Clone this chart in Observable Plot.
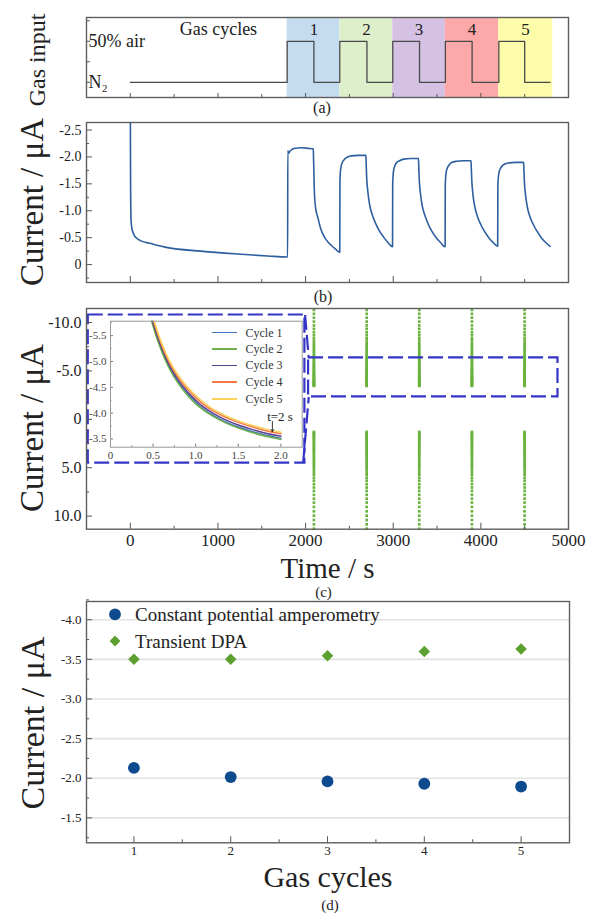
<!DOCTYPE html>
<html><head><meta charset="utf-8">
<script src="https://cdn.jsdelivr.net/npm/d3@7"></script>
<script src="https://cdn.jsdelivr.net/npm/@observablehq/plot@0.6"></script>
<style>
body{margin:0;background:#fff;}
#fig{position:relative;width:602px;height:918px;font-family:"Liberation Serif","Times New Roman",serif;color:#222;overflow:hidden;background:#fff}
#fig svg{position:absolute;overflow:visible}
#fig svg, #fig svg text{font-family:"Liberation Serif","Times New Roman",serif !important;}
.lbl{position:absolute;white-space:nowrap;line-height:1;}
</style></head><body><div id="fig"></div>
<script>
// ---------------- data ----------------
// shared time axis (s)
const timeMajor = [0, 1000, 2000, 3000, 4000];
const timeMinor = [500, 1500, 2500, 3500, 4500];
const timeLabels = [0, 1000, 2000, 3000, 4000, 5000];

// (a) gas input programme
const gasTime  = [0, 1790, 2095, 2390, 2700, 2995, 3300, 3595, 3900, 4205, 4500, 4790];
const gasLevel = [0, 1, 0, 1, 0, 1, 0, 1, 0, 1, 0, 0];
const gasLevelNames = ["N₂", "50% air"];
const gasLevelValues = [0, 1];
const cycleLabels = ["1", "2", "3", "4", "5"];
const cycleStart = [1790, 2390, 2995, 3595, 4205];
const cycleEnd   = [2390, 2995, 3595, 4205, 4820];
const cycleMid   = [2095, 2695, 3295, 3900, 4510];
const cycleColors = ["#c5dbf0", "#deefcc", "#d4c1e4", "#fea9a9", "#fdfcaa"];
const gasNote = "Gas cycles";

// (b) constant potential amperometry trace (time s, current µA)
const initTime = [0, 3, 8, 15, 30, 46, 80, 122, 236, 426, 806, 1186, 1566, 1792];
const initCur  = [-3.0, -1.5, -0.85, -0.7, -0.6, -0.54, -0.48, -0.44, -0.39, -0.315, -0.25, -0.2, -0.16, -0.14];
const c1Time = [1795, 1797, 1805, 1830, 1880, 1950, 2030, 2088, 2091, 2095, 2101, 2115, 2139, 2170, 2215, 2250, 2291, 2340, 2388];
const c1Cur  = [-0.14, -2.12, -2.07, -2.12, -2.16, -2.17, -2.16, -2.15, -1.95, -1.7, -1.32, -1.05, -0.88, -0.68, -0.51, -0.43, -0.36, -0.29, -0.23];
const c2Time = [2390, 2392, 2397, 2405, 2420, 2440, 2470, 2520, 2600, 2688, 2691, 2697, 2710, 2730, 2760, 2800, 2840, 2890, 2940, 2990];
const c2Cur  = [-0.23, -1.55, -1.72, -1.82, -1.9, -1.95, -1.99, -2.02, -2.03, -2.03, -1.88, -1.62, -1.36, -1.12, -0.93, -0.76, -0.63, -0.51, -0.41, -0.33];
const c3Time = [2992, 2994, 2999, 3007, 3022, 3042, 3072, 3122, 3200, 3288, 3291, 3297, 3310, 3330, 3360, 3400, 3440, 3490, 3540, 3590];
const c3Cur  = [-0.33, -1.5, -1.67, -1.77, -1.85, -1.9, -1.93, -1.96, -1.97, -1.97, -1.83, -1.58, -1.33, -1.1, -0.92, -0.75, -0.62, -0.5, -0.41, -0.33];
const c4Time = [3592, 3594, 3599, 3607, 3622, 3642, 3672, 3722, 3800, 3888, 3891, 3897, 3910, 3930, 3960, 4000, 4040, 4090, 4140, 4190];
const c4Cur  = [-0.33, -1.47, -1.64, -1.74, -1.81, -1.86, -1.9, -1.92, -1.93, -1.93, -1.79, -1.55, -1.3, -1.08, -0.9, -0.74, -0.62, -0.5, -0.41, -0.34];
const c5Time = [4192, 4194, 4199, 4207, 4222, 4242, 4272, 4322, 4400, 4488, 4491, 4497, 4510, 4530, 4560, 4600, 4640, 4690, 4740, 4790];
const c5Cur  = [-0.34, -1.45, -1.61, -1.71, -1.78, -1.83, -1.87, -1.89, -1.9, -1.9, -1.77, -1.53, -1.29, -1.07, -0.89, -0.74, -0.62, -0.5, -0.41, -0.34];

// (c) transient DPA samples: pulse times and sampled currents (µA)
const pulseTime = [2095, 2697, 3297, 3898, 4499];
const pulseNeg = [-11.3, -10.9, -10.5, -10.1, -9.7, -9.35, -9.0, -8.7, -8.4, -8.15, -7.9, -7.65, -7.45, -7.25, -7.05, -6.85, -6.65, -6.5, -6.35, -6.2, -6.05, -5.9, -5.75, -5.6, -5.48, -5.36, -5.24, -5.12, -5.0, -4.9, -4.8, -4.7, -4.6, -4.5, -4.42, -4.34, -4.26, -4.18, -4.1, -4.02, -3.95, -3.88, -3.81, -3.74, -3.68, -3.62, -3.56, -3.5, -3.45];
const pulsePos = [11.3, 10.85, 10.4, 9.95, 9.5, 9.05, 8.6, 8.2, 7.8, 7.4, 7.05, 6.7, 6.35, 6.05, 5.75, 5.5, 5.25, 5.0, 4.8, 4.6, 4.4, 4.2, 4.0, 3.8, 3.6, 3.42, 3.25, 3.08, 2.92, 2.76, 2.6, 2.45, 2.3, 2.16, 2.02, 1.88, 1.75, 1.62, 1.5, 1.4, 1.3];
const zoomBoxT = [-480, 1992];  const zoomBoxI = [-10.78, 4.53];
const detailBoxT = [2034, 4880]; const detailBoxI = [-6.35, -2.31];
const connT1 = [1994, 1972];  const connI1 = [-10.78, 4.53];
const connT2 = [2036, 2036];  const connI2 = [-6.35, -2.31];

// (c) inset: transient current during first 2 s of each cycle
const insetTime = [0.47, 0.5, 0.55, 0.6, 0.65, 0.7, 0.8, 0.9, 1.0, 1.1, 1.2, 1.35, 1.5, 1.65, 1.8, 2.0];
const inCycle1 = [-5.88, -5.71, -5.45, -5.23, -5.03, -4.86, -4.59, -4.38, -4.21, -4.07, -3.96, -3.83, -3.73, -3.65, -3.58, -3.51];
const inCycle2 = [-5.85, -5.68, -5.42, -5.2, -5.0, -4.83, -4.56, -4.35, -4.18, -4.05, -3.94, -3.81, -3.71, -3.63, -3.56, -3.49];
const inCycle3 = [-5.92, -5.75, -5.49, -5.27, -5.07, -4.9, -4.63, -4.42, -4.25, -4.11, -4.0, -3.87, -3.77, -3.69, -3.62, -3.55];
const inCycle4 = [-5.98, -5.81, -5.55, -5.32, -5.12, -4.95, -4.68, -4.47, -4.3, -4.16, -4.05, -3.92, -3.82, -3.74, -3.67, -3.6];
const inCycle5 = [-6.02, -5.85, -5.59, -5.36, -5.16, -4.99, -4.72, -4.51, -4.34, -4.2, -4.08, -3.95, -3.85, -3.77, -3.7, -3.63];
const inNames = ["Cycle 1", "Cycle 2", "Cycle 3", "Cycle 4", "Cycle 5"];
const inColors = ["#3f74b8", "#6db34a", "#5a3f8f", "#f37a45", "#fbd35a"];

// (d) summary per gas cycle
const gasCycles = [1, 2, 3, 4, 5];
const cpaCurrent = [-2.13, -2.015, -1.96, -1.93, -1.895];
const dpaCurrent = [-3.5, -3.5, -3.545, -3.6, -3.63];
const seriesNames = ["Constant potential amperometry", "Transient DPA"];
const seriesColors = ["#0d4a8e", "#5ca032"];

// ---------------- helpers ----------------
const SERIF = '"Liberation Serif","Times New Roman",serif';
const fig = document.getElementById("fig");
const FRAME = {stroke: "#5e5e5e", strokeWidth: 1.4};
const TICK = "#555";
function put(svg, left, top) { svg.style.left = left + "px"; svg.style.top = top + "px"; svg.style.background = "transparent"; fig.appendChild(svg); }
function label(txt, x, y, size, rot, extra) {
  const d = document.createElement("div");
  d.className = "lbl"; d.innerHTML = txt;
  d.style.left = x + "px"; d.style.top = y + "px"; d.style.fontSize = size + "px";
  d.style.transform = "translate(-50%,-50%)" + (rot ? " rotate(-90deg)" : "");
  if (extra) Object.assign(d.style, extra);
  fig.appendChild(d);
}
const fmt1 = d => d === 0 ? "0" : d.toFixed(1);
const ticksX = (vals, len, innerH) => Plot.tickX(vals, {insetTop: innerH - len, stroke: TICK, strokeWidth: 1});
const ticksY = (vals, len, innerW) => Plot.tickY(vals, {insetRight: innerW - len, stroke: TICK, strokeWidth: 1});
const baseStyle = {fontFamily: SERIF, color: "#222", background: "transparent", overflow: "visible"};
const W = 602, ML = 86, MR = 34, innerW = W - ML - MR;
const timeDomain = [-500, 5000];

// ---------------- (a) ----------------
{
  const H = 100, MT = 17, MB = 3, innerH = H - MT - MB;
  const cycles = cycleLabels.map((c, i) => ({c, x1: cycleStart[i], x2: cycleEnd[i], mid: cycleMid[i], fill: cycleColors[i]}));
  const gas = gasTime.map((t, i) => ({t, v: gasLevel[i]}));
  const lv = gasLevelValues.map((v, i) => ({v, s: gasLevelNames[i]}));
  put(Plot.plot({
    width: W, height: H, marginLeft: ML, marginRight: MR, marginTop: MT, marginBottom: MB,
    x: {domain: timeDomain, axis: null}, y: {domain: [-0.37, 1.58], axis: null},
    color: {type: "identity"}, style: baseStyle,
    marks: [
      Plot.rect(cycles, {x1: "x1", x2: "x2", fill: "fill"}),
      Plot.line(gas, {x: "t", y: "v", curve: "step-after", stroke: "#4a4a4a", strokeWidth: 1.3}),
      Plot.text(cycles, {x: "mid", y: () => 1.28, text: "c", fontSize: 17}),
      Plot.text([gasNote], {x: () => 1005, y: () => 1.3, text: d => d, fontSize: 18}),
      Plot.text(lv, {y: "v", text: "s", frameAnchor: "left", dx: 2, textAnchor: "start", fontSize: 18}),
      ticksX(timeMajor, 4, innerH), ticksX(timeMinor, 3, innerH),
      ticksY([0, 0.5, 1, 1.5], 4, innerW),
      Plot.frame(FRAME)
    ]
  }), 0, 0);
  label("Gas input", 37, 59.5, 24, true);
  label("(a)", 322, 108, 16);
}

// ---------------- (b) ----------------
{
  const H = 176, MT = 12, MB = 4, innerH = H - MT - MB;
  const tt = [].concat(initTime, c1Time, c2Time, c3Time, c4Time, c5Time);
  const ii = [].concat(initCur, c1Cur, c2Cur, c3Cur, c4Cur, c5Cur);
  const trace = tt.map((t, k) => ({t, i: ii[k]}));
  put(Plot.plot({
    width: W, height: H, marginLeft: ML, marginRight: MR, marginTop: MT, marginBottom: MB,
    x: {domain: timeDomain, axis: null, label: null}, y: {domain: [0.333, -2.64], label: null},
    style: baseStyle,
    marks: [
      Plot.line(trace, {x: "t", y: "i", stroke: "#2d5f9f", strokeWidth: 1.6, curve: "monotone-x", clip: true}),
      Plot.axisY({ticks: [-2.5, -2, -1.5, -1, -0.5, 0], tickSize: 0, tickPadding: 5, fontSize: 14, tickFormat: fmt1, label: null}),
      ticksY([-2.5, -2, -1.5, -1, -0.5, 0], 6, innerW), ticksY([-2.25, -1.75, -1.25, -0.75, -0.25, 0.25], 3, innerW),
      ticksX(timeMajor, 6, innerH), ticksX(timeMinor, 3, innerH),
      Plot.frame(FRAME)
    ]
  }), 0, 110);
  label("Current / μA", 32, 201.5, 33, true);
  label("(b)", 323, 297, 16);
}

// ---------------- (c) ----------------
{
  const H = 260, MT = 8, MB = 31.3, innerH = H - MT - MB;
  const dots = [];
  pulseTime.forEach(t => { pulseNeg.forEach(i => dots.push({t, i})); pulsePos.forEach(i => dots.push({t, i})); });
  const boxes = [
    {x1: zoomBoxT[0], x2: zoomBoxT[1], y1: zoomBoxI[0], y2: zoomBoxI[1]},
    {x1: detailBoxT[0], x2: detailBoxT[1], y1: detailBoxI[0], y2: detailBoxI[1]}
  ];
  const links = [
    {x1: connT1[0], y1: connI1[0], x2: connT2[0], y2: connI2[0]},
    {x1: connT1[1], y1: connI1[1], x2: connT2[1], y2: connI2[1]}
  ];
  put(Plot.plot({
    width: W, height: H, marginLeft: ML, marginRight: MR, marginTop: MT, marginBottom: MB,
    x: {domain: timeDomain, label: null}, y: {domain: [11.35, -11.45], label: null},
    style: baseStyle,
    marks: [
      Plot.dot(dots, {x: "t", y: "i", symbol: "square", r: 1.5, fill: "#6ab23e", stroke: "none"}),
      Plot.rect(boxes, {x1: "x1", x2: "x2", y1: "y1", y2: "y2", fill: "none", stroke: "#3434c6", strokeWidth: 2.2, strokeDasharray: "15,5"}),
      Plot.link(links, {x1: "x1", y1: "y1", x2: "x2", y2: "y2", stroke: "#3434c6", strokeWidth: 2.2, strokeDasharray: "15,5"}),
      Plot.axisY({ticks: [-10, -5, 0, 5, 10], tickSize: 0, tickPadding: 5, fontSize: 16, tickFormat: fmt1, label: null}),
      Plot.axisX({ticks: timeLabels, tickSize: 0, tickPadding: 5, fontSize: 17, tickFormat: d => String(d), label: null}),
      ticksY([-10, -5, 0, 5, 10], 6, innerW), ticksY([-7.5, -2.5, 2.5, 7.5], 3, innerW),
      ticksX(timeMajor, 6, innerH), ticksX(timeMinor, 3, innerH),
      Plot.frame(FRAME)
    ]
  }), 0, 300);

  // inset
  const IW = 230, IH = 155, IML = 30, IMR = 8.3, IMT = 8.7, IMB = 20.3;
  const iInnerW = IW - IML - IMR, iInnerH = IH - IMT - IMB;
  const series = [inCycle1, inCycle2, inCycle3, inCycle4, inCycle5];
  const insetMarks = series.map((s, k) => Plot.line(insetTime.map((t, j) => ({t, i: s[j]})), {x: "t", y: "i", stroke: inColors[k], strokeWidth: 1.5, curve: "monotone-x", clip: true}));
  put(Plot.plot({
    width: IW, height: IH, marginLeft: IML, marginRight: IMR, marginTop: IMT, marginBottom: IMB,
    x: {domain: [0, 2.25], label: null}, y: {domain: [-3.34, -5.78], label: null},
    style: {...baseStyle, color: "#444"},
    marks: [
      ...insetMarks,
      Plot.axisX({ticks: [0, 0.5, 1, 1.5, 2], tickSize: 0, tickPadding: 3.5, fontSize: 11, tickFormat: fmt1, label: null}),
      Plot.axisY({ticks: [-5.5, -5, -4.5, -4, -3.5], tickSize: 0, tickPadding: 4, fontSize: 11, tickFormat: fmt1, label: null}),
      Plot.tickX([0, 0.5, 1, 1.5, 2], {insetTop: iInnerH - 3, stroke: "#777"}),
      Plot.tickX([0.25, 0.75, 1.25, 1.75], {insetTop: iInnerH - 1.5, stroke: "#777"}),
      Plot.tickY([-5.5, -5, -4.5, -4, -3.5], {insetRight: iInnerW - 3, stroke: "#777"}),
      Plot.tickY([-5.75, -5.25, -4.75, -4.25, -3.75], {insetRight: iInnerW - 1.5, stroke: "#777"}),
      Plot.arrow([{x1: 1.9, y1: -3.84, x2: 1.9, y2: -3.64}], {x1: "x1", y1: "y1", x2: "x2", y2: "y2", stroke: "#222", strokeWidth: 0.9, headLength: 4}),
      Plot.text(["t=2 s"], {x: () => 1.99, y: () => -3.93, text: d => d, fontSize: 13, fill: "#222"}),
      Plot.frame({stroke: "#999", strokeWidth: 1})
    ]
  }), 80, 312);

  // inset legend
  const rows = [332.7, 348.9, 365.3, 382.2, 399.1];
  inNames.forEach((n, k) => {
    const ln = document.createElement("div");
    Object.assign(ln.style, {position: "absolute", left: "211.5px", top: (rows[k] - 0.8) + "px", width: "25px", height: "1.6px", background: inColors[k]});
    fig.appendChild(ln);
    label(n, 245.5, rows[k], 12, false, {transform: "translate(0,-50%)", color: "#333"});
  });

  label("Current / μA", 31.5, 428, 33, true);
  label("Time / s", 327.5, 568, 29);
  label("(c)", 323.5, 592, 15);
}

// ---------------- (d) ----------------
{
  const H = 280, MT = 11, MB = 27.7, MRd = 33, innerH = H - MT - MB, innerWd = W - ML - MRd;
  const cpa = gasCycles.map((c, i) => ({c, v: cpaCurrent[i]}));
  const dpa = gasCycles.map((c, i) => ({c, v: dpaCurrent[i]}));
  const yMaj = [-4, -3.5, -3, -2.5, -2, -1.5];
  put(Plot.plot({
    width: W, height: H, marginLeft: ML, marginRight: MRd, marginTop: MT, marginBottom: MB,
    x: {domain: [0.51, 5.5], label: null}, y: {domain: [-1.185, -4.23], label: null},
    style: baseStyle,
    marks: [
      Plot.ruleY(yMaj, {stroke: "#e2e2e2", strokeWidth: 1.6}),
      Plot.dot(cpa, {x: "c", y: "v", r: 5.9, fill: seriesColors[0], stroke: "none"}),
      Plot.dot(dpa, {x: "c", y: "v", symbol: "diamond2", r: 5.2, fill: seriesColors[1], stroke: "none"}),
      Plot.axisY({ticks: yMaj, tickSize: 0, tickPadding: 5, fontSize: 13, tickFormat: d => d.toFixed(1), label: null}),
      Plot.axisX({ticks: gasCycles, tickSize: 0, tickPadding: 3, fontSize: 13, tickFormat: d => String(d), label: null}),
      ticksY(yMaj, 6, innerWd), ticksY([-4.25, -3.75, -3.25, -2.75, -2.25, -1.75, -1.25], 3, innerWd),
      ticksX(gasCycles, 6, innerH), ticksX([1.5, 2.5, 3.5, 4.5], 3, innerH),
      Plot.frame(FRAME)
    ]
  }), 0, 590);

  // legend
  const lg = document.createElementNS("http://www.w3.org/2000/svg", "svg");
  lg.setAttribute("width", 30); lg.setAttribute("height", 50);
  lg.innerHTML = `<circle cx="15" cy="14.3" r="5.9" fill="${seriesColors[0]}"/>` +
                 `<path d="M15,35.6L20.4,41L15,46.4L9.6,41Z" fill="${seriesColors[1]}"/>`;
  lg.style.left = "100px"; lg.style.top = "600px";
  fig.appendChild(lg);
  label(seriesNames[0], 135, 614.3, 19, false, {transform: "translate(0,-50%)"});
  label(seriesNames[1], 135, 641, 19, false, {transform: "translate(0,-50%)"});

  label("Current / μA", 33, 722.5, 34, true);
  label("Gas cycles", 328, 877, 30);
  label("(d)", 330, 905, 15);
}
</script></body></html>
